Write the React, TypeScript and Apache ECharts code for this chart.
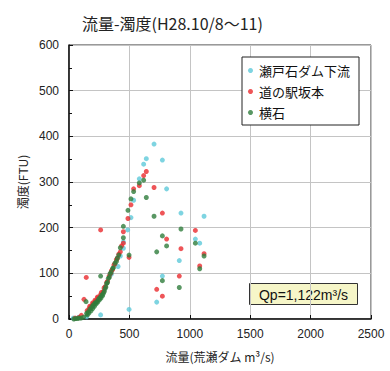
import React, { useEffect, useRef } from "react";
import * as echarts from "echarts";

const titleText = "流量-濁度(H28.10/8〜11)";
const seriesNames = ["瀬戸石ダム下流", "道の駅坂本", "横石"];
const seriesColors = ["#5ec9da", "#ea2a2e", "#2f7d3c"];
const xTicks = { min: 0, max: 2500, interval: 500 };
const yTicks = { min: 0, max: 600, interval: 100 };
const qpLabel = "Qp=1,122m³/s";

// 瀬戸石ダム下流
const setoishi: number[][] = [
  [35, 2], [80, 4], [146, 5], [262, 9], [200, 30], [300, 70], [350, 98],
  [406, 115], [425, 138], [450, 155], [450, 169], [486, 195], [497, 21],
  [513, 222], [535, 260], [582, 307], [618, 339], [640, 351], [704, 383],
  [726, 37], [773, 94], [773, 348], [808, 285], [913, 128], [927, 232],
  [1046, 175], [1082, 166], [1118, 225],
];

// 道の駅坂本
const michinoeki: number[][] = [
  [50, 2], [80, 3], [102, 8], [124, 43], [143, 91], [150, 18], [165, 22],
  [172, 28], [180, 27], [195, 35], [200, 33], [215, 41], [220, 39],
  [235, 48], [240, 46], [262, 195], [260, 53], [268, 58], [284, 60],
  [290, 68], [300, 71], [312, 80], [320, 83], [332, 94], [345, 100],
  [352, 106], [360, 108], [372, 118], [380, 121], [392, 130], [400, 133],
  [412, 142], [425, 147], [435, 160], [450, 166], [450, 191], [488, 220],
  [497, 135], [513, 250], [535, 285], [582, 292], [618, 314], [640, 323],
  [704, 288], [726, 65], [773, 50], [773, 232], [808, 175], [913, 94],
  [927, 154], [1046, 194], [1082, 116], [1118, 143],
];

// 横石
const yokoishi: number[][] = [
  [40, 0], [55, 1], [70, 1], [85, 2], [100, 2], [120, 4], [141, 38],
  [146, 12], [152, 9], [160, 16], [165, 13], [174, 22], [182, 18],
  [190, 27], [196, 23], [201, 31], [210, 28], [215, 35], [224, 33],
  [229, 38], [238, 37], [245, 44], [252, 42], [257, 47], [262, 94],
  [265, 46], [270, 52], [278, 51], [284, 56], [292, 60], [298, 66],
  [305, 70], [312, 78], [318, 80], [326, 89], [333, 91], [340, 99],
  [350, 103], [362, 111], [367, 112], [381, 122], [392, 126], [400, 133],
  [412, 140], [425, 156], [450, 178], [450, 203], [488, 238], [497, 140],
  [513, 263], [535, 279], [582, 298], [618, 304], [640, 266], [704, 225],
  [726, 147], [773, 84], [773, 182], [808, 160], [913, 69], [927, 197],
  [1046, 166], [1082, 110], [1118, 138],
];

const seriesData = [setoishi, michinoeki, yokoishi];

export default function App() {
  const ref = useRef<HTMLDivElement>(null);
  useEffect(() => {
    if (!ref.current) return;
    const chart = echarts.init(ref.current, undefined, { renderer: "svg" });
    chart.setOption({
      animation: false,
      backgroundColor: "#ffffff",
      textStyle: { fontFamily: "Liberation Sans, Noto Sans CJK JP, sans-serif" },
      title: {
        text: titleText,
        left: 77,
        top: 10,
        textStyle: {
          fontSize: 16,
          fontWeight: "normal",
          color: "#222",
          fontFamily: "Noto Sans CJK JP, sans-serif",
        },
      },
      grid: {
        left: 69,
        top: 45,
        width: 302,
        height: 274,
        show: true,
        borderColor: "#333",
        borderWidth: 1,
        backgroundColor: "transparent",
      },
      legend: {
        orient: "vertical",
        left: 242,
        top: 57,
        data: seriesNames,
        icon: "circle",
        itemWidth: 5,
        itemHeight: 5,
        itemGap: 8,
        padding: [7, 9, 6, 6],
        borderColor: "#222",
        borderWidth: 1,
        backgroundColor: "#fff",
        textStyle: {
          fontSize: 13,
          color: "#111",
          fontFamily: "Noto Sans CJK JP, sans-serif",
          padding: [0, 0, 0, 1],
        },
      },
      xAxis: {
        type: "value",
        min: xTicks.min,
        max: xTicks.max,
        interval: xTicks.interval,
        name: "流量(荒瀬ダム m³/s)",
        nameLocation: "middle",
        nameGap: 31,
        nameTextStyle: {
          fontSize: 12,
          color: "#222",
          fontFamily: "Noto Sans CJK JP, sans-serif",
        },
        axisLine: { show: true, onZero: false, lineStyle: { color: "#111", width: 1.5 } },
        axisTick: { show: true, inside: true, length: 4, lineStyle: { color: "#111" } },
        axisLabel: { fontSize: 12, color: "#222", margin: 9, formatter: (v: number) => String(v) },
        splitLine: { show: true, lineStyle: { color: "#c4c4c4", width: 1 } },
      },
      yAxis: {
        type: "value",
        min: yTicks.min,
        max: yTicks.max,
        interval: yTicks.interval,
        name: "濁度(FTU)",
        nameLocation: "middle",
        nameGap: 38,
        nameTextStyle: {
          fontSize: 12,
          color: "#222",
          fontFamily: "Noto Sans CJK JP, sans-serif",
        },
        axisLine: { show: true, onZero: false, lineStyle: { color: "#111", width: 1.5 } },
        axisTick: { show: true, inside: true, length: 4, lineStyle: { color: "#111" } },
        minorTick: { show: true, splitNumber: 2, length: 3, lineStyle: { color: "#111" } },
        axisLabel: { fontSize: 12, color: "#222", margin: 10, formatter: (v: number) => String(v) },
        splitLine: { show: true, lineStyle: { color: "#c4c4c4", width: 1 } },
      },
      series: seriesNames.map((name, i) => ({
        name,
        type: "scatter",
        data: seriesData[i],
        symbol: "circle",
        symbolSize: 5,
        itemStyle: { color: seriesColors[i] },
      })),
      graphic: [
        {
          type: "group",
          left: 249,
          top: 283,
          children: [
            {
              type: "rect",
              shape: { x: 0, y: 0, width: 108, height: 21 },
              style: { fill: "#f6f6c8", stroke: "#333", lineWidth: 1 },
            },
            {
              type: "text",
              x: 54,
              y: 11,
              style: {
                text: qpLabel,
                fontSize: 14,
                fill: "#111",
                align: "center",
                verticalAlign: "middle",
                fontFamily: "Liberation Sans, sans-serif",
              },
            },
          ],
        },
      ],
    });
    return () => chart.dispose();
  }, []);
  return (
    <div
      ref={ref}
      style={{ position: "fixed", left: 0, top: 0, width: 390, height: 371, background: "#fff" }}
    />
  );
}
